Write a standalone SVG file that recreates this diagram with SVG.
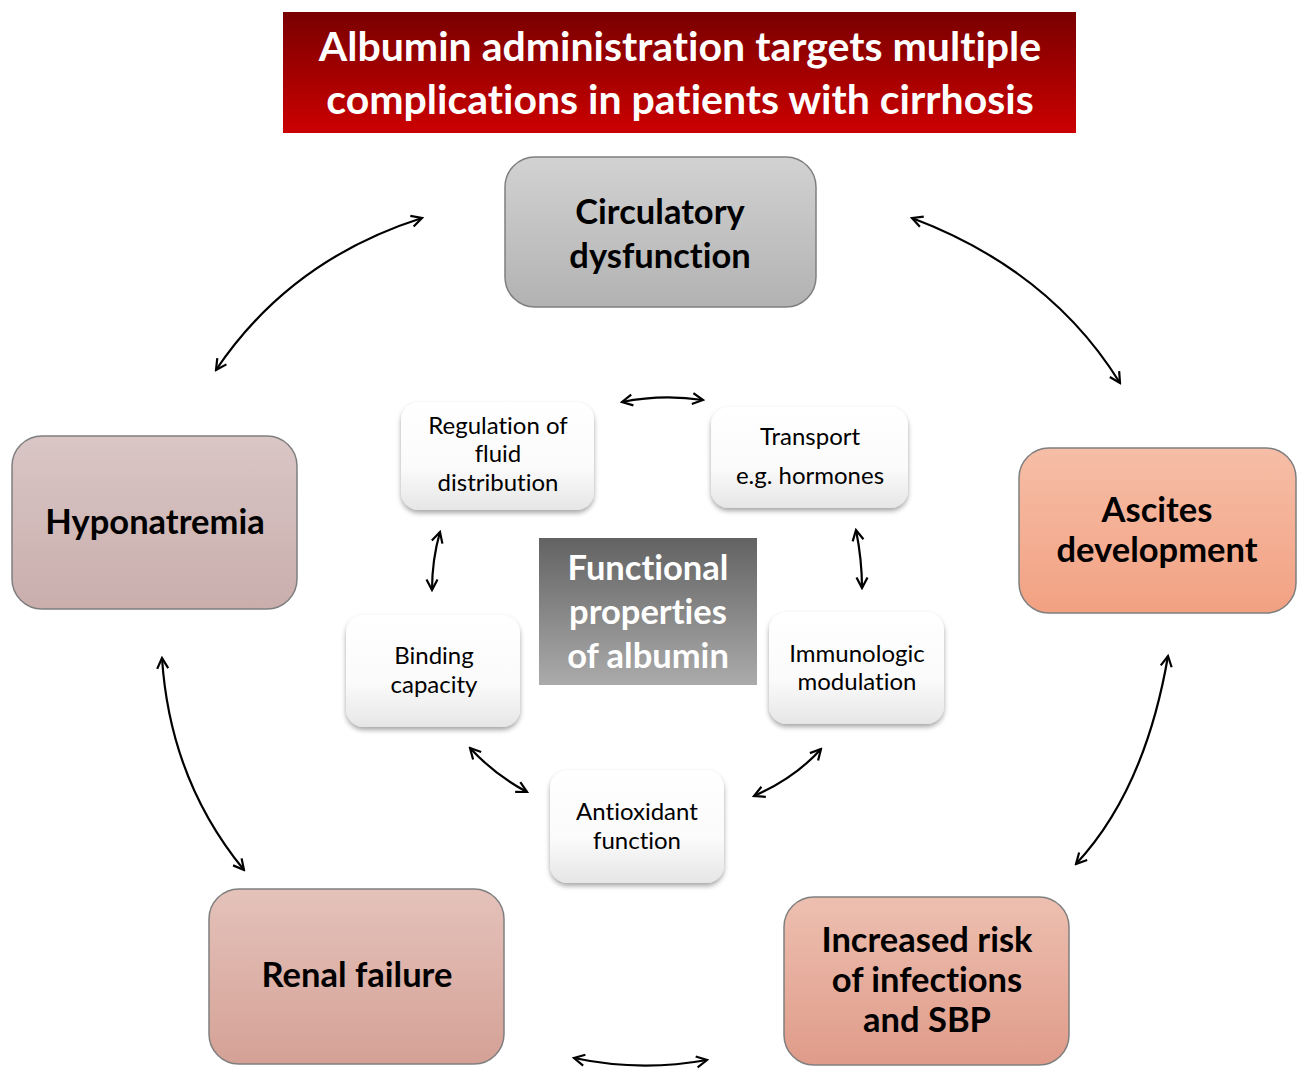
<svg xmlns="http://www.w3.org/2000/svg" width="1297" height="1070" viewBox="0 0 1297 1070">
<defs>
<linearGradient id="gTitle" x1="0" y1="0" x2="0" y2="1"><stop offset="0" stop-color="#790000"/><stop offset="1" stop-color="#cc0000"/></linearGradient>
<linearGradient id="gGray" x1="0" y1="0" x2="0" y2="1"><stop offset="0" stop-color="#d2d2d2"/><stop offset="1" stop-color="#b2b2b2"/></linearGradient>
<linearGradient id="gHypo" x1="0" y1="0" x2="0" y2="1"><stop offset="0" stop-color="#d9c6c5"/><stop offset="1" stop-color="#c9aeac"/></linearGradient>
<linearGradient id="gAsc" x1="0" y1="0" x2="0" y2="1"><stop offset="0" stop-color="#f6bea7"/><stop offset="1" stop-color="#f2a182"/></linearGradient>
<linearGradient id="gRenal" x1="0" y1="0" x2="0" y2="1"><stop offset="0" stop-color="#e4c2ba"/><stop offset="1" stop-color="#d5a196"/></linearGradient>
<linearGradient id="gInf" x1="0" y1="0" x2="0" y2="1"><stop offset="0" stop-color="#edbfb0"/><stop offset="1" stop-color="#e09b89"/></linearGradient>
<linearGradient id="gWhite" x1="0" y1="0" x2="0" y2="1"><stop offset="0" stop-color="#ffffff"/><stop offset="0.6" stop-color="#fbfbfb"/><stop offset="1" stop-color="#e6e6e6"/></linearGradient>
<linearGradient id="gCenter" x1="0" y1="0" x2="0" y2="1"><stop offset="0" stop-color="#626262"/><stop offset="1" stop-color="#ababab"/></linearGradient>
<filter id="sh" x="-20%" y="-20%" width="140%" height="150%"><feDropShadow dx="0" dy="3" stdDeviation="2.5" flood-color="#000" flood-opacity="0.35"/></filter>
<marker id="ah" viewBox="0 0 14 14" refX="12" refY="7" markerWidth="14" markerHeight="14" markerUnits="userSpaceOnUse" orient="auto-start-reverse">
<path d="M1.5,1.5 L12,7 L1.5,12.5" fill="none" stroke="#000" stroke-width="2.2"/>
</marker>
</defs>
<style>
text{font-variant-ligatures:none}
.big{font-family:Lato,"Open Sans",sans-serif;font-weight:bold;font-size:34.5px;fill:#000;text-anchor:middle}
.sm{font-family:Lato,"Open Sans",sans-serif;font-size:24px;fill:#000;text-anchor:middle}
.ttl{font-family:Lato,"Open Sans",sans-serif;font-weight:bold;font-size:41px;fill:#fff;text-anchor:middle}
.ctr{font-family:Lato,"Open Sans",sans-serif;font-weight:bold;font-size:34.5px;fill:#fff;text-anchor:middle}
.outer{stroke:#7f7f7f;stroke-width:1.5}
.wb{fill:url(#gWhite);filter:url(#sh)}
.con{fill:none;stroke:#000;stroke-width:2.2;marker-start:url(#ah);marker-end:url(#ah)}
</style>
<g id="title">
<rect x="283" y="12" width="793" height="121" fill="url(#gTitle)"/>
<text class="ttl" x="680" y="61">Albumin administration targets multiple</text>
<text class="ttl" x="680" y="114">complications in patients with cirrhosis</text>
</g>
<g id="circulatory">
<rect class="outer" x="505" y="157" width="311" height="150" rx="30" fill="url(#gGray)"/>
<text class="big" x="660" y="224">Circulatory</text>
<text class="big" x="660" y="268">dysfunction</text>
</g>
<g id="hyponatremia">
<rect class="outer" x="12" y="436" width="285" height="173" rx="30" fill="url(#gHypo)"/>
<text class="big" x="155" y="534">Hyponatremia</text>
</g>
<g id="ascites">
<rect class="outer" x="1019" y="448" width="277" height="165" rx="30" fill="url(#gAsc)"/>
<text class="big" x="1157" y="522">Ascites</text>
<text class="big" x="1157" y="562">development</text>
</g>
<g id="renal">
<rect class="outer" x="209" y="889" width="295" height="175" rx="30" fill="url(#gRenal)"/>
<text class="big" x="357" y="987">Renal failure</text>
</g>
<g id="infections">
<rect class="outer" x="784" y="897" width="285" height="168" rx="30" fill="url(#gInf)"/>
<text class="big" x="927" y="952">Increased risk</text>
<text class="big" x="927" y="992">of infections</text>
<text class="big" x="927" y="1032">and SBP</text>
</g>
<g id="regulation">
<rect class="wb" x="401" y="402" width="193" height="108" rx="18"/>
<text class="sm" x="498" y="434">Regulation of</text>
<text class="sm" x="498" y="462">fluid</text>
<text class="sm" x="498" y="491">distribution</text>
</g>
<g id="transport">
<rect class="wb" x="711" y="407" width="197" height="101" rx="18"/>
<text class="sm" x="810" y="445">Transport</text>
<text class="sm" x="810" y="484">e.g. hormones</text>
</g>
<g id="binding">
<rect class="wb" x="346" y="615" width="174" height="112" rx="18"/>
<text class="sm" x="434" y="664">Binding</text>
<text class="sm" x="434" y="693">capacity</text>
</g>
<g id="immunologic">
<rect class="wb" x="769" y="612" width="175" height="112" rx="18"/>
<text class="sm" x="857" y="662">Immunologic</text>
<text class="sm" x="857" y="690">modulation</text>
</g>
<g id="antioxidant">
<rect class="wb" x="550" y="770" width="174" height="113" rx="18"/>
<text class="sm" x="637" y="820">Antioxidant</text>
<text class="sm" x="637" y="849">function</text>
</g>
<g id="center">
<rect x="539" y="538" width="218" height="147" fill="url(#gCenter)"/>
<text class="ctr" x="648" y="580">Functional</text>
<text class="ctr" x="648" y="624">properties</text>
<text class="ctr" x="648" y="668">of albumin</text>
</g>
<g id="connectors">
<path class="con" d="M216,370 Q290,260 422,218"/>
<path class="con" d="M912,218 Q1050,270 1120,383"/>
<path class="con" d="M162,658 Q170,780 244,870"/>
<path class="con" d="M1168,656 Q1145,790 1076,864"/>
<path class="con" d="M574,1058 Q640,1072 707,1060"/>
<path class="con" d="M622,402 Q662,394 703,400"/>
<path class="con" d="M440,532 Q432,560 432,590"/>
<path class="con" d="M856,530 Q862,560 862,588"/>
<path class="con" d="M470,748 Q495,775 527,792"/>
<path class="con" d="M754,796 Q795,778 821,749"/>
</g>
</svg>
